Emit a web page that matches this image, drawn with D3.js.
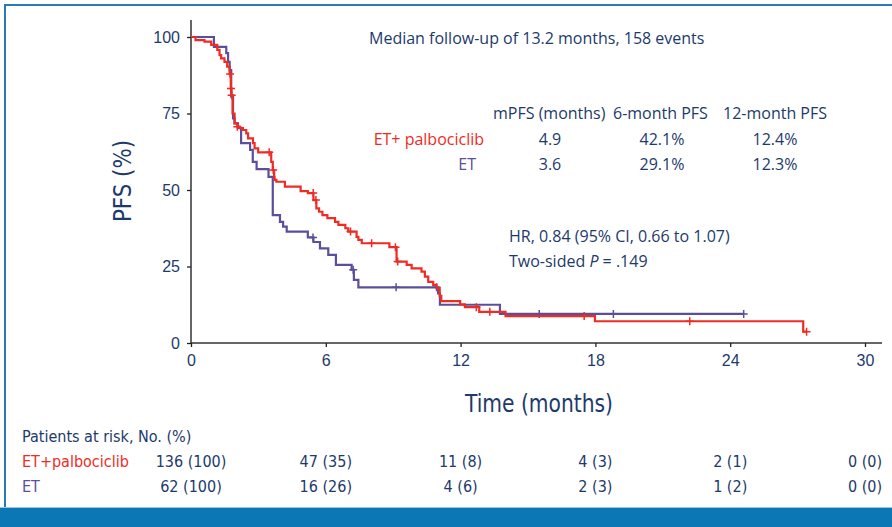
<!DOCTYPE html>
<html>
<head>
<meta charset="utf-8">
<script src="https://cdn.jsdelivr.net/npm/d3@7"></script>
<style>
html,body{margin:0;padding:0;background:#fff;}
svg{display:block;}
</style>
</head>
<body>
<svg id="chart" width="892" height="527"></svg>
<script>
// ---------- data ----------
const xTicks = [0, 6, 12, 18, 24, 30];
const yTicks = [0, 25, 50, 75, 100];

const redT = [0, 0.2, 0.6, 0.9, 1.17, 1.27, 1.34, 1.49, 1.61, 1.72, 1.77, 1.80, 1.85, 1.94, 2.06, 2.16, 2.31, 2.46, 2.54, 2.76, 2.83, 2.99, 3.57, 3.64, 3.70, 3.72, 3.80, 4.18, 4.88, 5.20, 5.45, 5.58, 5.70, 5.85, 6.07, 6.41, 6.56, 6.87, 7.00, 7.37, 7.45, 7.60, 8.83, 9.15, 9.60, 9.82, 10.26, 10.41, 10.56, 10.78, 10.93, 11.07, 11.14, 11.98, 12.19, 12.83, 14.00, 17.98, 27.25, 27.4];
const redS = [100, 99, 98.5, 97.4, 95.8, 94.1, 93.0, 91.9, 90.3, 87.9, 83.2, 81.0, 75.0, 71.8, 70.7, 70.2, 69.6, 68.5, 66.9, 65.3, 63.6, 62.3, 59.2, 56.5, 54.3, 53.3, 52.7, 51.1, 49.6, 49.0, 46.7, 44.0, 42.9, 41.8, 40.8, 39.6, 38.6, 37.5, 36.4, 34.7, 33.7, 32.6, 31.3, 26.6, 25.5, 24.4, 23.3, 21.7, 20.0, 19.0, 17.9, 15.4, 13.7, 12.6, 11.7, 10.2, 8.8, 7.1, 3.7, 3.7];
const redCensor = [1.74, 1.78, 1.81, 2.06, 3.48, 3.66, 5.44, 5.56, 7.10, 8.04, 9.10, 9.20, 12.70, 13.30, 17.50, 22.20, 27.40];

const blueT = [0, 1.02, 1.57, 1.65, 1.72, 1.79, 1.87, 1.94, 2.09, 2.23, 2.63, 2.75, 2.92, 3.45, 3.64, 3.96, 4.10, 4.26, 5.20, 5.45, 5.74, 6.11, 6.45, 7.15, 7.25, 7.45, 11.00, 11.08, 13.75, 24.6];
const blueS = [100, 96.8, 94.7, 91.9, 89.2, 80.5, 73.4, 71.8, 70.3, 65.3, 63.1, 59.2, 56.8, 54.3, 41.8, 39.6, 38.0, 36.4, 34.5, 33.0, 30.9, 28.8, 25.5, 23.9, 20.6, 18.2, 16.2, 12.5, 9.5, 9.5];
const blueCensor = [5.43, 7.22, 9.13, 10.93, 15.5, 18.8, 24.6];

const riskTimes = [0, 6, 12, 18, 24, 30];
const riskRed = ["136 (100)", "47 (35)", "11 (8)", "4 (3)", "2 (1)", "0 (0)"];
const riskBlue = ["62 (100)", "16 (26)", "4 (6)", "2 (3)", "1 (2)", "0 (0)"];

const statHeaders = ["mPFS (months)", "6-month PFS", "12-month PFS"];
const statRed = ["4.9", "42.1%", "12.4%"];
const statBlue = ["3.6", "29.1%", "12.3%"];

// ---------- styles ----------
const RED = "#ee2c24";
const BLUE = "#5b4f9b";
const NAVY = "#1d3a6b";
const FRAME = "#2a7bb4";
const SANS = "'Liberation Sans', Arial, Helvetica, sans-serif";
const WIDE = "'Open Sans', 'Liberation Sans', Arial, sans-serif";
const NARROW = "'Liberation Sans Narrow', 'DejaVu Sans Condensed', 'Liberation Sans', sans-serif";

const svg = d3.select("#chart");
svg.append("rect").attr("width", 892).attr("height", 527).attr("fill", "#fff");

// frame
svg.append("line").attr("x1", 4).attr("x2", 892).attr("y1", 5).attr("y2", 5)
  .attr("stroke", FRAME).attr("stroke-width", 2);
svg.append("line").attr("x1", 5).attr("x2", 5).attr("y1", 4).attr("y2", 508)
  .attr("stroke", FRAME).attr("stroke-width", 2);
svg.append("rect").attr("x", 0).attr("y", 507).attr("width", 892).attr("height", 1).attr("fill", "#9cc6e2");
svg.append("rect").attr("x", 0).attr("y", 508).attr("width", 892).attr("height", 19).attr("fill", "#0b77b5");

// scales
const x = d3.scaleLinear().domain([0, 30]).range([191, 865]);
const y = d3.scaleLinear().domain([0, 100]).range([343, 37]);

// axes
const gx = svg.append("g").attr("transform", "translate(0,343)")
  .call(d3.axisBottom(x).tickValues(xTicks).tickSize(4).tickPadding(8).tickSizeOuter(0));
gx.select(".domain").attr("d", "M191,0H882").attr("stroke", "#333").attr("stroke-width", 1.5);
gx.selectAll(".tick line").attr("stroke", "#222").attr("stroke-width", 1.3);
gx.selectAll(".tick text").attr("font-family", SANS).attr("font-size", 16).attr("fill", NAVY);

const gy = svg.append("g").attr("transform", "translate(191,0)")
  .call(d3.axisLeft(y).tickValues(yTicks).tickSize(4).tickPadding(7).tickSizeOuter(0));
gy.select(".domain").attr("d", "M0,20V343").attr("stroke", "#333").attr("stroke-width", 1.5);
gy.selectAll(".tick line").attr("stroke", "#222").attr("stroke-width", 1.3);
gy.selectAll(".tick text").attr("font-family", SANS).attr("font-size", 16).attr("fill", NAVY);

// axis titles
svg.append("text").attr("transform", "translate(131,181) rotate(-90)")
  .attr("text-anchor", "middle").attr("font-family", NARROW).attr("font-size", 25)
  .attr("textLength", 82).attr("lengthAdjust", "spacingAndGlyphs")
  .attr("fill", NAVY).text("PFS (%)");
svg.append("text").attr("x", 539).attr("y", 412)
  .attr("text-anchor", "middle").attr("font-family", NARROW).attr("font-size", 25)
  .attr("textLength", 148).attr("lengthAdjust", "spacingAndGlyphs")
  .attr("fill", NAVY).text("Time (months)");

// curves
const line = d3.line().x(d => x(d[0])).y(d => y(d[1])).curve(d3.curveStepAfter);
function stepVal(T, S, t) {
  let v = S[0];
  for (let i = 0; i < T.length; i++) { if (T[i] <= t) v = S[i]; }
  return v;
}
function drawCurve(T, S, C, color) {
  const pts = T.map((t, i) => [t, S[i]]);
  svg.append("path").datum(pts).attr("d", line).attr("fill", "none")
    .attr("stroke", color).attr("stroke-width", 2.2).attr("stroke-linejoin", "miter");
  svg.append("g").selectAll("path").data(C).join("path")
    .attr("d", t => {
      const cx = x(t), cy = y(stepVal(T, S, t));
      return `M${cx - 4},${cy}H${cx + 4}M${cx},${cy - 4}V${cy + 4}`;
    })
    .attr("stroke", color).attr("stroke-width", 1.5).attr("fill", "none");
}
drawCurve(blueT, blueS, blueCensor, BLUE);
drawCurve(redT, redS, redCensor, RED);

// annotation text
const FS = 16;
svg.append("text").attr("x", 369).attr("y", 44).attr("font-family", WIDE).attr("font-size", FS)
  .attr("fill", NAVY).text("Median follow-up of 13.2 months, 158 events");

const headX = [493, 613, 723];
statHeaders.forEach((h, i) => {
  svg.append("text").attr("x", headX[i]).attr("y", 119).attr("font-family", WIDE)
    .attr("font-size", FS).attr("fill", NAVY).text(h);
});
const colC = [550, 662, 775];
svg.append("text").attr("x", 484).attr("y", 145).attr("text-anchor", "end")
  .attr("font-family", WIDE).attr("font-size", FS).attr("fill", RED).text("ET+ palbociclib");
svg.append("text").attr("x", 476).attr("y", 170).attr("text-anchor", "end")
  .attr("font-family", WIDE).attr("font-size", FS).attr("fill", BLUE).text("ET");
statRed.forEach((v, i) => {
  svg.append("text").attr("x", colC[i]).attr("y", 145).attr("text-anchor", "middle")
    .attr("font-family", WIDE).attr("font-size", FS).attr("fill", NAVY).text(v);
});
statBlue.forEach((v, i) => {
  svg.append("text").attr("x", colC[i]).attr("y", 170).attr("text-anchor", "middle")
    .attr("font-family", WIDE).attr("font-size", FS).attr("fill", NAVY).text(v);
});

svg.append("text").attr("x", 509).attr("y", 242).attr("font-family", WIDE).attr("font-size", FS)
  .attr("fill", NAVY).text("HR, 0.84 (95% CI, 0.66 to 1.07)");
const pt = svg.append("text").attr("x", 509).attr("y", 267).attr("font-family", WIDE)
  .attr("font-size", FS).attr("fill", NAVY);
pt.append("tspan").text("Two-sided ");
pt.append("tspan").attr("font-style", "italic").text("P");
pt.append("tspan").text(" = .149");

// at risk table
svg.append("text").attr("x", 22).attr("y", 442).attr("font-family", NARROW).attr("font-size", 16)
  .attr("fill", NAVY).text("Patients at risk, No. (%)");
svg.append("text").attr("x", 22).attr("y", 467).attr("font-family", NARROW).attr("font-size", 16)
  .attr("fill", RED).text("ET+palbociclib");
svg.append("text").attr("x", 22).attr("y", 492).attr("font-family", NARROW).attr("font-size", 16)
  .attr("fill", BLUE).text("ET");
svg.append("g").selectAll("text").data(riskRed).join("text")
  .attr("x", (d, i) => x(riskTimes[i])).attr("y", 467).attr("text-anchor", "middle")
  .attr("font-family", NARROW).attr("font-size", 16).attr("fill", NAVY).text(d => d);
svg.append("g").selectAll("text").data(riskBlue).join("text")
  .attr("x", (d, i) => x(riskTimes[i])).attr("y", 492).attr("text-anchor", "middle")
  .attr("font-family", NARROW).attr("font-size", 16).attr("fill", NAVY).text(d => d);
</script>
</body>
</html>
